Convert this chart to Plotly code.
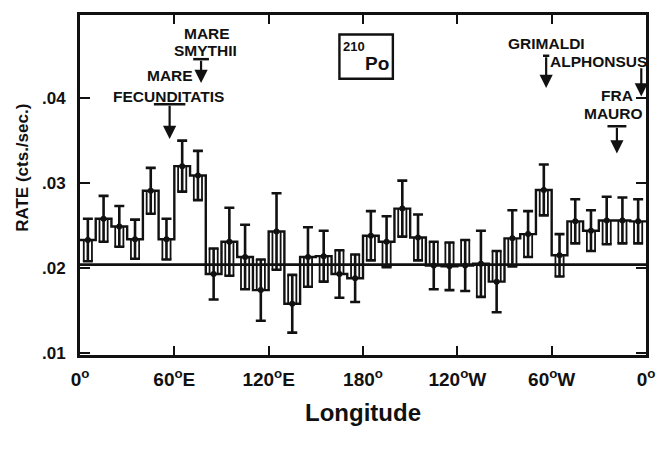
import plotly.graph_objects as go

# ---------------- data ----------------
bin_edges = list(range(0, 370, 10))          # longitude bin edges, degrees (0..360)
rate = [0.0233, 0.0258, 0.0249, 0.0234, 0.0291, 0.0234, 0.0320, 0.0309, 0.0193,
        0.0231, 0.0213, 0.0174, 0.0243, 0.0158, 0.0213, 0.0214, 0.0193, 0.0188,
        0.0238, 0.0231, 0.0270, 0.0236, 0.0203, 0.0202, 0.0203, 0.0205, 0.0184,
        0.0235, 0.0240, 0.0292, 0.0215, 0.0255, 0.0244, 0.0256, 0.0256, 0.0255]
rate_err = [0.0025, 0.0027, 0.0024, 0.0023, 0.0027, 0.0024, 0.0030, 0.0029, 0.0030,
            0.0040, 0.0038, 0.0036, 0.0045, 0.0034, 0.0035, 0.0030, 0.0028, 0.0028,
            0.0029, 0.0030, 0.0033, 0.0027, 0.0028, 0.0028, 0.0030, 0.0039, 0.0036,
            0.0033, 0.0027, 0.0030, 0.0025, 0.0026, 0.0024, 0.0028, 0.0027, 0.0026]
background_rate = 0.0204

tick_vals = [0, 60, 120, 180, 240, 300, 360]
tick_text = ["0<sup>o</sup>", "60<sup>o</sup>E", "120<sup>o</sup>E", "180<sup>o</sup>",
             "120<sup>o</sup>W", "60<sup>o</sup>W", "0<sup>o</sup>"]
y_tick_vals = [0.01, 0.02, 0.03, 0.04]
y_tick_text = [".01", ".02", ".03", ".04"]

# site markers: longitude, bar half-width (deg), arrow top, arrow tip
sites = [
    {"lon": 57, "half": 10, "top": 0.0393, "tip": 0.0352},   # Mare Fecunditatis
    {"lon": 77, "half": 5, "top": 0.0446, "tip": 0.0418},    # Mare Smythii
    {"lon": 296.5, "half": 2, "top": 0.0450, "tip": 0.0412}, # Grimaldi
    {"lon": 357, "half": 0, "top": 0.0437, "tip": 0.0402},   # Alphonsus
    {"lon": 341.5, "half": 6, "top": 0.0367, "tip": 0.0335}, # Fra Mauro
]
site_labels = [
    ("MARE", 57, 0.0427), ("FECUNDITATIS", 56.5, 0.0402),
    ("MARE", 80.5, 0.0476), ("SMYTHII", 80, 0.0456),
    ("GRIMALDI", 297, 0.0464), ("ALPHONSUS", 329.5, 0.0443),
    ("FRA", 341.5, 0.0403), ("MAURO", 339.5, 0.0382),
]

FONT = "Liberation Sans"
BLACK = "#111111"

centers = [(bin_edges[i] + bin_edges[i + 1]) / 2 for i in range(len(rate))]

fig = go.Figure()

# background reference line
fig.add_trace(go.Scatter(x=[bin_edges[0], bin_edges[-1]], y=[background_rate, background_rate],
                         mode="lines", line=dict(color=BLACK, width=2.6), hoverinfo="skip"))

# step histogram
fig.add_trace(go.Scatter(x=bin_edges, y=rate + [rate[-1]], mode="lines",
                         line=dict(color=BLACK, width=2.4, shape="hv"), hoverinfo="skip"))

# inner legs of each bin (drawn toward the background line)
lx, ly = [], []
for i, (v, e) in enumerate(zip(rate, rate_err)):
    end = v - e if v >= background_rate else v + e
    for xx in (bin_edges[i] + 2.4, bin_edges[i + 1] - 2.4):
        lx += [xx, xx, None]
        ly += [v, end, None]
fig.add_trace(go.Scatter(x=lx, y=ly, mode="lines", line=dict(color=BLACK, width=1.8),
                         hoverinfo="skip"))

# error bars with dots
fig.add_trace(go.Scatter(x=centers, y=rate, mode="markers",
                         marker=dict(color=BLACK, size=6),
                         error_y=dict(type="data", array=rate_err, visible=True,
                                      color=BLACK, thickness=2.6, width=5)))

# site bars + arrows
for s in sites:
    if s["half"] > 0:
        fig.add_shape(type="line", xref="x", yref="y",
                      x0=s["lon"] - s["half"], x1=s["lon"] + s["half"],
                      y0=s["top"], y1=s["top"], line=dict(color=BLACK, width=2.5))
    fig.add_annotation(x=s["lon"], y=s["tip"], ax=s["lon"], ay=s["top"],
                       xref="x", yref="y", axref="x", ayref="y", text="",
                       showarrow=True, arrowhead=2, arrowsize=1.2, arrowwidth=2.2,
                       arrowcolor=BLACK)

for t, xx, yy in site_labels:
    fig.add_annotation(x=xx, y=yy, xref="x", yref="y", text=t, showarrow=False,
                       font=dict(family=FONT, size=15.5, color=BLACK, weight="bold"))

# 210Po box
fig.add_shape(type="rect", xref="x", yref="y", x0=165, x1=199, y0=0.0423, y1=0.0475,
              line=dict(color=BLACK, width=2.4))
fig.add_annotation(x=174, y=0.0461, xref="x", yref="y", text="210", showarrow=False,
                   font=dict(family=FONT, size=13, color=BLACK, weight="bold"))
fig.add_annotation(x=189, y=0.0441, xref="x", yref="y", text="Po", showarrow=False,
                   font=dict(family=FONT, size=19, color=BLACK, weight="bold"))

# y-axis title (placed to the left of the plot area)
fig.add_annotation(x=-0.101, y=0.55, xref="paper", yref="paper", text="RATE (cts./sec.)",
                   showarrow=False, textangle=-90, xanchor="center", yanchor="middle",
                   font=dict(family=FONT, size=17, color=BLACK, weight="bold"))

fig.update_layout(
    width=667, height=451,
    margin=dict(l=80, r=13, t=14, b=96),
    paper_bgcolor="white", plot_bgcolor="white",
    showlegend=False,
    xaxis=dict(range=[0, 360], tickvals=tick_vals, ticktext=tick_text,
               ticks="inside", ticklen=9, tickwidth=2, tickcolor=BLACK,
               showline=True, linewidth=3, linecolor=BLACK, mirror="ticks",
               showgrid=False, zeroline=False, ticklabelstandoff=5,
               tickfont=dict(family=FONT, size=19, color=BLACK, weight="bold"),
               title=dict(text="Longitude", standoff=16,
                          font=dict(family=FONT, size=24, color=BLACK, weight="bold"))),
    yaxis=dict(range=[0.00976, 0.0498], tickvals=y_tick_vals, ticktext=y_tick_text,
               ticks="inside", ticklen=10, tickwidth=2, tickcolor=BLACK,
               showline=True, linewidth=3, linecolor=BLACK, mirror="ticks",
               showgrid=False, zeroline=False, ticklabelstandoff=8,
               tickfont=dict(family=FONT, size=17, color=BLACK, weight="bold")),
)

fig.write_html("out.html")
